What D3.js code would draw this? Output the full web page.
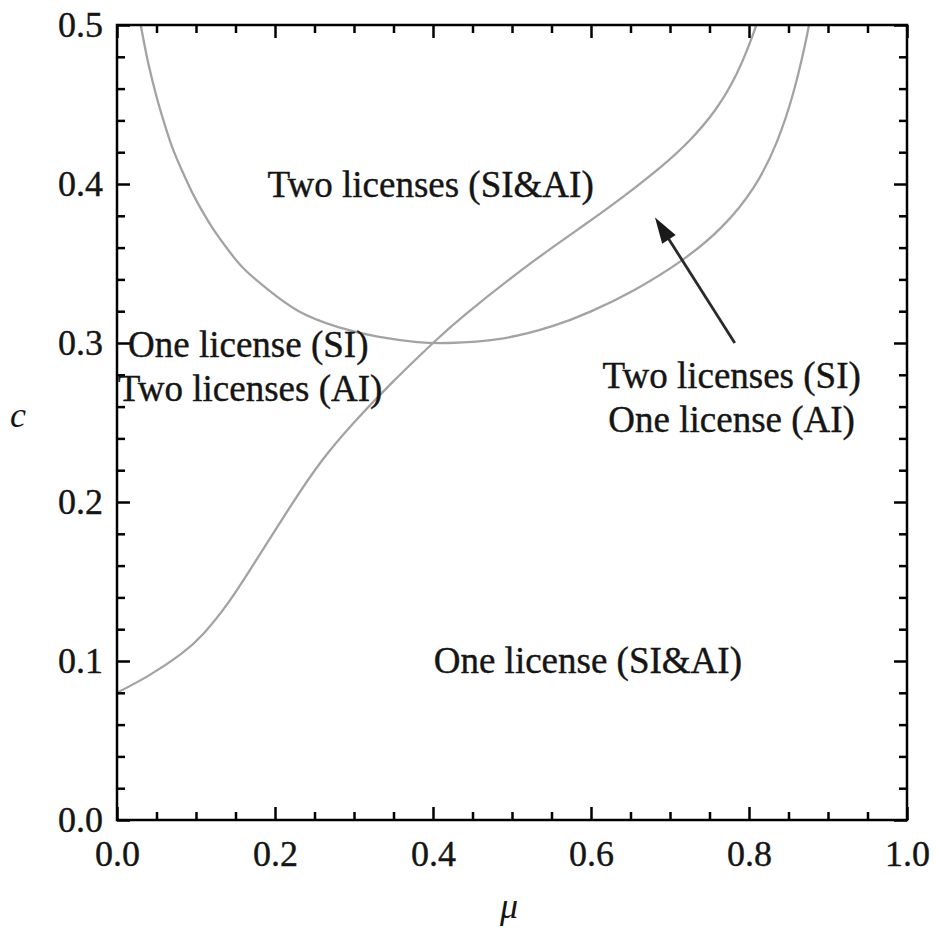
<!DOCTYPE html>
<html>
<head>
<meta charset="utf-8">
<script src="https://cdn.jsdelivr.net/npm/d3@7"></script>
<style>
  html, body { margin: 0; padding: 0; background: #fff; }
  svg { display: block; }
  text { font-family: "Liberation Serif", "Times New Roman", serif; }
</style>
</head>
<body>
<svg id="chart" width="937" height="940"></svg>
<script>
// ---- data ----
const sCurveMu = [0.000, 0.040, 0.080, 0.110, 0.140, 0.170, 0.220, 0.260, 0.300, 0.350, 0.400, 0.440, 0.520, 0.590, 0.640, 0.690, 0.725, 0.757, 0.785, 0.805, 0.810];
const sCurveC  = [0.080, 0.0908, 0.104, 0.1175, 0.1361, 0.1586, 0.1976, 0.2264, 0.250, 0.276, 0.300, 0.3176, 0.3488, 0.3737, 0.3917, 0.4114, 0.4275, 0.4464, 0.4699, 0.4939, 0.5014];

const uCurveMu = [0.030, 0.035, 0.040, 0.050, 0.060, 0.070, 0.080, 0.090, 0.100, 0.120, 0.140, 0.160, 0.190, 0.230, 0.280, 0.330, 0.380, 0.420, 0.485, 0.550, 0.600, 0.655, 0.715, 0.765, 0.806, 0.835, 0.856, 0.870, 0.876];
const uCurveC  = [0.500, 0.487, 0.475, 0.455, 0.438, 0.423, 0.411, 0.400, 0.390, 0.373, 0.359, 0.347, 0.334, 0.320, 0.310, 0.304, 0.3006, 0.300, 0.3026, 0.3104, 0.3199, 0.3334, 0.3520, 0.3727, 0.3979, 0.4262, 0.4572, 0.4855, 0.5002];

const xTicks = [0, 0.2, 0.4, 0.6, 0.8, 1.0];
const xTickLabels = ["0.0", "0.2", "0.4", "0.6", "0.8", "1.0"];
const yTicks = [0, 0.1, 0.2, 0.3, 0.4, 0.5];
const yTickLabels = ["0.0", "0.1", "0.2", "0.3", "0.4", "0.5"];

const xLabel = "\u03BC";
const yLabel = "c";

const regionLabels = ["Two licenses (SI&AI)", "One license (SI)", "Two licenses (AI)", "Two licenses (SI)", "One license (AI)", "One license (SI&AI)"];
const regionMu     = [0.397, 0.014, 0.001, 0.778, 0.778, 0.596];
const regionC      = [0.392, 0.291, 0.2635, 0.2717, 0.244, 0.0925];
const regionAnchor = ["middle", "start", "start", "middle", "middle", "middle"];

const arrowFrom = [0.782, 0.300];
const arrowTo   = [0.681, 0.379];

// ---- layout ----
const margin = { left: 117, top: 25 };
const iw = 790, ih = 795;

const svg = d3.select("#chart");
const g = svg.append("g").attr("transform", `translate(${margin.left},${margin.top})`);

const x = d3.scaleLinear().domain([0, 1]).range([0, iw]);
const y = d3.scaleLinear().domain([0, 0.5]).range([ih, 0]);

const tickFont = 36;
const labelFont = 37;
const textColor = "#151515";

// curves (clipped)
g.append("clipPath").attr("id", "clip").append("rect").attr("width", iw).attr("height", ih);

const line = d3.line().x(d => x(d[0])).y(d => y(d[1])).curve(d3.curveNatural);
const sData = sCurveMu.map((m, i) => [m, sCurveC[i]]);
const uData = uCurveMu.map((m, i) => [m, uCurveC[i]]);

const curves = g.append("g").attr("clip-path", "url(#clip)");
[sData, uData].forEach(d => {
  curves.append("path").datum(d).attr("d", line)
    .attr("fill", "none").attr("stroke", "#a3a3a3").attr("stroke-width", 2.3);
});

// minor ticks
const xMinor = d3.range(0, 1.0001, 0.05).filter(v => !xTicks.some(t => Math.abs(t - v) < 1e-6));
const yMinor = d3.range(0, 0.5001, 0.02).filter(v => !yTicks.some(t => Math.abs(t - v) < 1e-6));

function styleAxis(sel) {
  sel.select(".domain").remove();
  sel.selectAll("line").attr("stroke", "#000").attr("stroke-width", 2.5);
  sel.selectAll("text").attr("font-size", tickFont).attr("fill", textColor)
     .attr("stroke", textColor).attr("stroke-width", 0.4)
     .attr("font-family", "'Liberation Serif', 'Times New Roman', serif");
}

// bottom
g.append("g").attr("transform", `translate(0,${ih})`)
  .call(d3.axisBottom(x).tickValues(xTicks).tickFormat((d, i) => xTickLabels[i]).tickSize(-13).tickPadding(20))
  .call(styleAxis);
g.append("g").attr("transform", `translate(0,${ih})`)
  .call(d3.axisBottom(x).tickValues(xMinor).tickFormat("").tickSize(-8))
  .call(styleAxis);
// top
g.append("g")
  .call(d3.axisTop(x).tickValues(xTicks).tickFormat("").tickSize(-13))
  .call(styleAxis);
g.append("g")
  .call(d3.axisTop(x).tickValues(xMinor).tickFormat("").tickSize(-8))
  .call(styleAxis);
// left
g.append("g")
  .call(d3.axisLeft(y).tickValues(yTicks).tickFormat((d, i) => yTickLabels[i]).tickSize(-13).tickPadding(14))
  .call(styleAxis);
g.append("g")
  .call(d3.axisLeft(y).tickValues(yMinor).tickFormat("").tickSize(-8))
  .call(styleAxis);
// right
g.append("g").attr("transform", `translate(${iw},0)`)
  .call(d3.axisRight(y).tickValues(yTicks).tickFormat("").tickSize(-13))
  .call(styleAxis);
g.append("g").attr("transform", `translate(${iw},0)`)
  .call(d3.axisRight(y).tickValues(yMinor).tickFormat("").tickSize(-8))
  .call(styleAxis);

// frame
g.append("rect").attr("width", iw).attr("height", ih)
  .attr("fill", "none").attr("stroke", "#000").attr("stroke-width", 2.5);

// region labels
regionLabels.forEach((t, i) => {
  g.append("text")
    .attr("x", x(regionMu[i])).attr("y", y(regionC[i]))
    .attr("text-anchor", regionAnchor[i])
    .attr("font-size", labelFont).attr("fill", textColor)
    .attr("stroke", textColor).attr("stroke-width", 0.4)
    .text(t);
});

// arrow
const ax0 = x(arrowFrom[0]), ay0 = y(arrowFrom[1]);
const ax1 = x(arrowTo[0]), ay1 = y(arrowTo[1]);
const ang = Math.atan2(ay1 - ay0, ax1 - ax0);
const headLen = 26, headHalf = 8;
const bx = ax1 - headLen * Math.cos(ang), by = ay1 - headLen * Math.sin(ang);
g.append("line")
  .attr("x1", ax0).attr("y1", ay0).attr("x2", bx + 4 * Math.cos(ang)).attr("y2", by + 4 * Math.sin(ang))
  .attr("stroke", "#2a2a2a").attr("stroke-width", 2.8);
g.append("path")
  .attr("d", `M${ax1},${ay1} L${bx - headHalf * Math.sin(ang)},${by + headHalf * Math.cos(ang)} L${bx + headHalf * Math.sin(ang)},${by - headHalf * Math.cos(ang)} Z`)
  .attr("fill", "#1a1a1a");

// axis labels
svg.append("text").attr("x", 18).attr("y", 427).attr("text-anchor", "middle")
  .attr("font-size", tickFont).attr("font-style", "italic").attr("fill", textColor).text(yLabel);
svg.append("text").attr("x", 509).attr("y", 918).attr("text-anchor", "middle")
  .attr("font-size", tickFont).attr("font-style", "italic").attr("fill", textColor).text(xLabel);
</script>
</body>
</html>
